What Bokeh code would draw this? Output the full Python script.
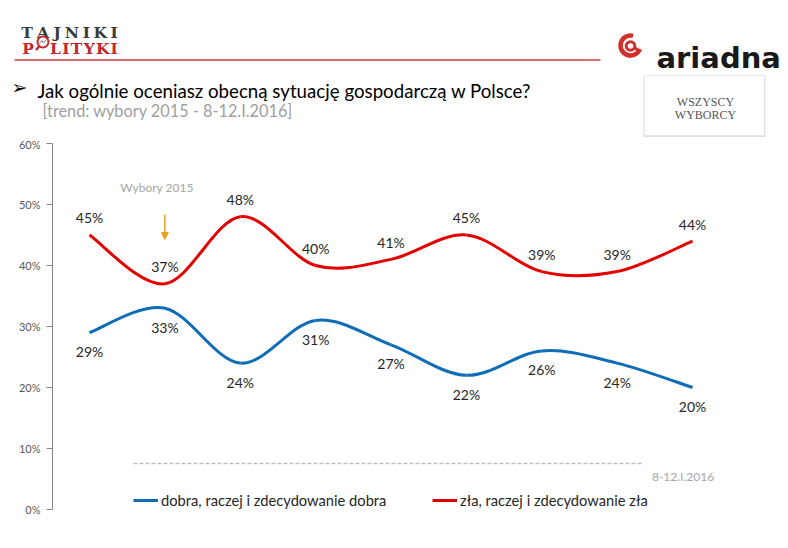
import numpy as np
from bokeh.plotting import figure
from bokeh.layouts import column
from bokeh.models import (Range1d, FixedTicker, NumeralTickFormatter, Arrow, NormalHead,
                          Legend, LegendItem, ColumnDataSource)
from bokeh.core.properties import value
from bokeh.embed import file_html
from bokeh.resources import INLINE

# ---------------- data ----------------
waves = list(range(9))  # survey waves: wybory 2015 ... 8-12.I.2016
good_pct = [29, 33, 24, 31, 27, 22, 26, 24, 20]   # dobra, raczej i zdecydowanie dobra
bad_pct = [45, 37, 48, 40, 41, 45, 39, 39, 44]    # zła, raczej i zdecydowanie zła
y_ticks = [0, 0.1, 0.2, 0.3, 0.4, 0.5, 0.6]
good_name = "dobra, raczej i zdecydowanie dobra"
bad_name = "zła, raczej i zdecydowanie zła"
title_text = "Jak ogólnie oceniasz obecną sytuację gospodarczą w Polsce?"
subtitle_text = "[trend: wybory 2015 - 8-12.I.2016]"

RED = "#e30000"
BLUE = "#0f6db6"
FONT = value("Lato")


def bezier_source(xs, ys):
    """Smoothed (Excel-like) curve as cubic Bezier segments through the data points."""
    xs = [float(v) for v in xs]
    ys = [float(v) for v in ys]
    n = len(xs)
    d = dict(x0=[], y0=[], x1=[], y1=[], cx0=[], cy0=[], cx1=[], cy1=[])
    for i in range(n - 1):
        xp, yp = (xs[i - 1], ys[i - 1]) if i > 0 else (xs[i], ys[i])
        xn, yn = (xs[i + 2], ys[i + 2]) if i + 2 < n else (xs[i + 1], ys[i + 1])
        d["x0"].append(xs[i]); d["y0"].append(ys[i])
        d["x1"].append(xs[i + 1]); d["y1"].append(ys[i + 1])
        d["cx0"].append(xs[i] + (xs[i + 1] - xp) / 6)
        d["cy0"].append(ys[i] + (ys[i + 1] - yp) / 6)
        d["cx1"].append(xs[i + 1] - (xn - xs[i]) / 6)
        d["cy1"].append(ys[i + 1] - (yn - ys[i]) / 6)
    return ColumnDataSource(d)


# ---------------- header ----------------
W = 788
HH = 137
h = figure(width=W, height=HH, x_range=Range1d(0, W), y_range=Range1d(HH, 0),
           output_backend="svg", toolbar_location=None, x_axis_location=None,
           y_axis_location=None, min_border=0, outline_line_color=None)
h.grid.visible = False
h.frame_align = False

# TAJNIKI / POLITYKI logo (letter-spaced)
def spaced(word, widths, x_start, x_end, fs):
    total = sum(widths) * fs
    gap = (x_end - x_start - total) / (len(word) - 1)
    xs, cur = [], x_start
    for w in widths:
        xs.append(cur + w * fs / 2)
        cur += w * fs + gap
    return xs

fs = 15.5
LOGO_FONT = value("DejaVu Serif")
t_x = spaced("TAJNIKI", [.72, .80, .48, .89, .44, .82, .44], 21, 117, fs)
h.text(x=t_x, y=[32] * 7, text=list("TAJNIKI"), text_font=LOGO_FONT,
       text_font_style="bold", text_font_size=f"{fs}px", text_color="#3a3a3a",
       text_align="center", text_baseline="alphabetic")
p_letters = list("POLITYKI")
p_x = spaced("POLITYKI", [.73, .85, .70, .44, .72, .72, .82, .44], 22, 117, fs)
keep = [i for i in range(8) if i != 1]
h.text(x=[p_x[i] for i in keep], y=[48] * 7, text=[p_letters[i] for i in keep],
       text_font=LOGO_FONT, text_font_style="bold",
       text_font_size=f"{fs}px", text_color="#c1272d", text_align="center",
       text_baseline="alphabetic")
# magnifier instead of "O"
h.scatter(x=[p_x[1] + 1], y=[41.5], size=11, marker="circle", fill_color="white",
          line_color="#c1272d", line_width=2)
h.segment(x0=[p_x[1] - 2.5], y0=[45.5], x1=[p_x[1] - 6], y1=[49.5], line_color="#c1272d",
          line_width=2.5)
h.line(x=[p_x[1] - 2.5, p_x[1], p_x[1] + 1.5, p_x[1] + 4],
       y=[43, 40, 42.5, 39.5], line_color="#777777", line_width=1)

# red rule
h.segment(x0=[14], y0=[59.5], x1=[600], y1=[59.5], line_color="#c8403f", line_width=1.5)

# ariadna logo
h.arc(x=[630], y=[45], radius=10, radius_units="screen", start_angle=np.deg2rad(75),
      end_angle=np.deg2rad(340), direction="anticlock", line_color="#d0312d", line_width=4.5)
h.arc(x=[630], y=[45.5], radius=4.3, radius_units="screen", start_angle=0,
      end_angle=2 * np.pi, line_color="#d0312d", line_width=3)
h.segment(x0=[634], y0=[47], x1=[639], y1=[51], line_color="#d0312d", line_width=3)
h.text(x=[656], y=[57], text=["ariadna"], text_font=value("DejaVu Sans"),
       text_font_style="bold", text_font_size="29px", text_color="#1a1a1a",
       text_align="left", text_baseline="alphabetic")

# title
h.text(x=[11], y=[86], text=["➢"], text_font=value("DejaVu Sans"), text_font_size="19px",
       text_color="#000000", text_align="left", text_baseline="middle")
h.text(x=[37], y=[90], text=[title_text], text_font=FONT, text_font_size="18.7px",
       text_color="#000000", text_align="left", text_baseline="alphabetic")
h.text(x=[42], y=[110], text=[subtitle_text], text_font=FONT, text_font_size="16.3px",
       text_color="#a0a0a0", text_align="left", text_baseline="alphabetic")

# WSZYSCY WYBORCY card
h.quad(left=[643], right=[765], top=[76], bottom=[137], fill_color="#d6d6d6",
       line_color=None, fill_alpha=0.8)
h.quad(left=[644], right=[764], top=[75], bottom=[135], fill_color="white",
       line_color="#e6e6e6", line_width=1)
h.text(x=[705, 705], y=[101, 114], text=["WSZYSCY", "WYBORCY"],
       text_font=value("Liberation Serif"), text_font_size="12px", text_color="#555555",
       text_align="center", text_baseline="middle")

# ---------------- chart ----------------
CH = 548 - HH
p = figure(width=W, height=CH, x_range=Range1d(-0.4909, 9.2736),
           y_range=Range1d(-0.0639, 0.6098), output_backend="svg", toolbar_location=None,
           x_axis_location=None, min_border_left=52, min_border_right=0,
           min_border_top=0, min_border_bottom=0, outline_line_color=None)
p.grid.visible = False
p.frame_align = False
ax = p.yaxis[0]
ax.ticker = FixedTicker(ticks=y_ticks)
ax.formatter = NumeralTickFormatter(format="0%")
ax.bounds = (0, 0.6)
ax.axis_line_color = "#868686"
ax.major_tick_line_color = "#868686"
ax.major_tick_out = 6
ax.major_tick_in = 0
ax.minor_tick_line_color = None
ax.major_label_standoff = 6
ax.major_label_text_font = "Lato"
ax.major_label_text_font_size = "11px"
ax.major_label_text_color = "#595959"

good = [v / 100 for v in good_pct]
bad = [v / 100 for v in bad_pct]

r_good = p.bezier(x0="x0", y0="y0", x1="x1", y1="y1", cx0="cx0", cy0="cy0", cx1="cx1",
                  cy1="cy1", source=bezier_source(waves, good), line_color=BLUE, line_width=3)
r_bad = p.bezier(x0="x0", y0="y0", x1="x1", y1="y1", cx0="cx0", cy0="cy0", cx1="cx1",
                 cy1="cy1", source=bezier_source(waves, bad), line_color=RED, line_width=3)

p.text(x=waves, y=good, text=[f"{v}%" for v in good_pct], y_offset=19, text_font=FONT,
       text_font_size="14px", text_color="#262626", text_align="center",
       text_baseline="middle")
p.text(x=waves, y=bad, text=[f"{v}%" for v in bad_pct], y_offset=-17, text_font=FONT,
       text_font_size="14px", text_color="#262626", text_align="center",
       text_baseline="middle")

# election annotation
p.text(x=[0.895], y=[0.528], text=["Wybory 2015"], text_font=FONT, text_font_size="12px",
       text_color="#a6a6a6", text_align="center", text_baseline="middle")
p.add_layout(Arrow(x_start=1, y_start=0.4836, x_end=1, y_end=0.4426,
                   line_color="#e6a520", line_width=1.5,
                   end=NormalHead(size=7, fill_color="#e6a520", line_color="#e6a520")))

# dashed time line and date
p.segment(x0=[0.584], y0=[0.0754], x1=[7.35], y1=[0.0754], line_color="#bfbfbf",
          line_width=1.5, line_dash="4 2")
p.text(x=[7.874], y=[0.0546], text=["8-12.I.2016"], text_font=FONT, text_font_size="12px",
       text_color="#a6a6a6", text_align="center", text_baseline="middle")

# legends
for r, name, loc in [(r_good, good_name, (81, 39)), (r_bad, bad_name, (380, 39))]:
    lg = Legend(items=[LegendItem(label=name, renderers=[r])], location=loc,
                orientation="horizontal", glyph_width=25, glyph_height=16,
                label_height=16, label_standoff=3, padding=0, margin=0, spacing=0,
                border_line_color=None, background_fill_alpha=0,
                label_text_font="Lato", label_text_font_size="14.7px",
                label_text_color="#262626", label_text_baseline="middle")
    p.add_layout(lg)

layout = column(h, p, spacing=0)
open("out.html", "w").write(file_html(layout, INLINE))
